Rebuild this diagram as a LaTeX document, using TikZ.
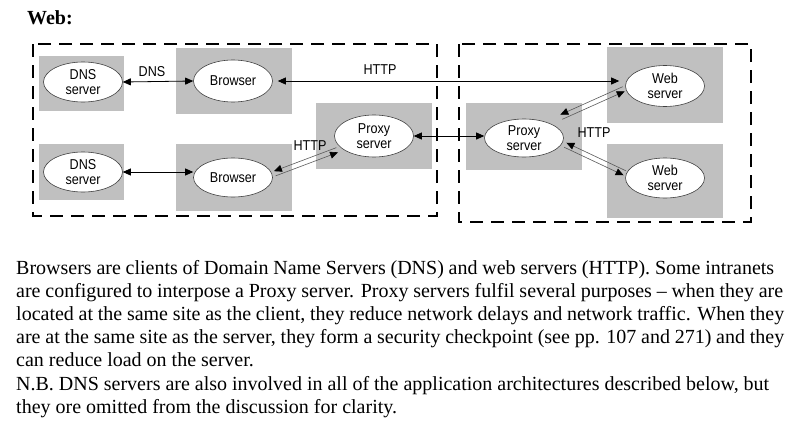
\documentclass[tikz,border=0pt]{standalone}
\usepackage{fontspec}
\setmainfont{Liberation Serif}
\newfontfamily\lblfont[FakeStretch=0.88]{Liberation Sans}
\usetikzlibrary{arrows.meta,shapes.geometric,calc}
\definecolor{boxgray}{RGB}{192,192,192}
\begin{document}
\begin{tikzpicture}[x=1pt,y=-1pt,
  gbox/.style={fill=boxgray, draw=none, inner sep=0pt},
  ell/.style={ellipse, draw=black!75, line width=0.6pt, fill=white, minimum width=79pt, minimum height=41pt, inner sep=0pt, align=center, font=\lblfont\fontsize{14.3}{14.5}\selectfont},
  lbl/.style={font=\lblfont\fontsize{14.3}{14.5}\selectfont, inner sep=0pt},
  dbox/.style={draw, line width=2.5pt, dash pattern=on 13pt off 8pt},
  arr/.style={{Triangle[length=8pt,width=7pt]}-{Triangle[length=8pt,width=7pt]}, line width=0.8pt},
  parr/.style={-{Triangle[length=8pt,width=7pt,color=black]}, line width=0.6pt, draw=black!65},
  para/.style={anchor=base west, inner sep=0pt, font=\fontsize{20}{23}\selectfont}
]
\useasboundingbox (0,0) rectangle (803,431);

\node[anchor=base west, inner sep=0pt, font=\bfseries\fontsize{20}{22}\selectfont] (title) at (27,24) {Web:};

% dashed groups
\draw[dbox] (33,44) rectangle (437,216);
\draw[dbox] (459,44) rectangle (751,222);

% gray boxes
\node[gbox, minimum width=85pt, minimum height=55pt] (dns1b) at (81.5,83.5) {};
\node[gbox, minimum width=116pt, minimum height=66pt] (brow1b) at (234,81) {};
\node[gbox, minimum width=116pt, minimum height=66pt] (proxLb) at (374,136) {};
\node[gbox, minimum width=85pt, minimum height=56pt] (dns2b) at (81.5,172) {};
\node[gbox, minimum width=116pt, minimum height=67pt] (brow2b) at (234,177.5) {};
\node[gbox, minimum width=116pt, minimum height=67pt] (proxRb) at (524,136.5) {};
\node[gbox, minimum width=116pt, minimum height=76pt] (web1b) at (665,85) {};
\node[gbox, minimum width=116pt, minimum height=74pt] (web2b) at (665,181) {};

% ellipses
\node[ell, minimum height=40pt] (dns1e) at (83,82) {DNS\\server};
\node[ell, minimum height=42pt] (brow1e) at (233,81) {Browser};
\node[ell, minimum height=42pt] (proxLe) at (374,136) {Proxy\\server};
\node[ell, minimum height=40pt] (dns2e) at (83,172) {DNS\\server};
\node[ell, minimum height=39pt] (brow2e) at (233,177.5) {Browser};
\node[ell, minimum height=38pt] (proxRe) at (524,138) {Proxy\\server};
\node[ell, minimum height=41pt] (web1e) at (665,86) {Web\\server};
\node[ell, minimum height=40pt] (web2e) at (665,178) {Web\\server};

% connectors
\draw[arr] (dns1e.east) -- (brow1e.west);
\draw[arr] (dns2e.east) -- (dns2e.east -| brow2e.west);
\draw[arr, shorten <=5pt, shorten >=6pt] (brow1e.east) -- (brow1e.east -| web1e.west);
\draw[arr] (proxLe.east) -- (proxLe.east -| proxRe.west);

% paired HTTP arrows
\coordinate (a1) at ($(brow2e.east)+(2,-4)$);
\coordinate (b1) at ($(proxLe.west)+(3,14)$);
\draw[parr] ($(b1)!2.5pt!-90:(a1)$) -- ($(a1)!2.5pt!90:(b1)$);
\draw[parr] ($(a1)!2.5pt!-90:(b1)$) -- ($(b1)!2.5pt!90:(a1)$);

\coordinate (a2) at ($(proxRe.east)+(-2.5,-21)$);
\coordinate (b2) at ($(web1e.west)+(-1.5,3)$);
\draw[parr] ($(b2)!2.5pt!-90:(a2)$) -- ($(a2)!2.5pt!90:(b2)$);
\draw[parr] ($(a2)!2.5pt!-90:(b2)$) -- ($(b2)!2.5pt!90:(a2)$);

\coordinate (a3) at ($(proxRe.east)+(1.5,7)$);
\coordinate (b3) at ($(web2e.west)+(-0.5,-5)$);
\draw[parr] ($(b3)!2.5pt!-90:(a3)$) -- ($(a3)!2.5pt!90:(b3)$);
\draw[parr] ($(a3)!2.5pt!-90:(b3)$) -- ($(b3)!2.5pt!90:(a3)$);

% labels
\node[lbl] (ldns) at (152,72) {DNS};
\node[lbl] (lhttp1) at (380,70) {HTTP};
\node[lbl] (lhttp2) at (310,146) {HTTP};
\node[lbl] (lhttp3) at (594,133) {HTTP};

% paragraph
\node[para] (t1) at (16,274) {\makebox[758pt][s]{Browsers are clients of Domain Name Servers (DNS) and web servers (HTTP). Some intranets}};
\node[para] (t2) at (16,297.2) {\makebox[767pt][s]{are configured to interpose a Proxy server. Proxy servers fulfil several purposes – when they are}};
\node[para] (t3) at (16,320.4) {\makebox[768pt][s]{located at the same site as the client, they reduce network delays and network traffic. When they}};
\node[para] (t4) at (16,343.6) {\makebox[768pt][s]{are at the same site as the server, they form a security checkpoint (see pp. 107 and 271) and they}};
\node[para] (t5) at (16,366.8) {can reduce load on the server.};
\node[para] (t6) at (16,390) {\makebox[753pt][s]{N.B. DNS servers are also involved in all of the application architectures described below, but}};
\node[para] (t7) at (16,413.2) {they ore omitted from the discussion for clarity.};
\end{tikzpicture}
\end{document}
